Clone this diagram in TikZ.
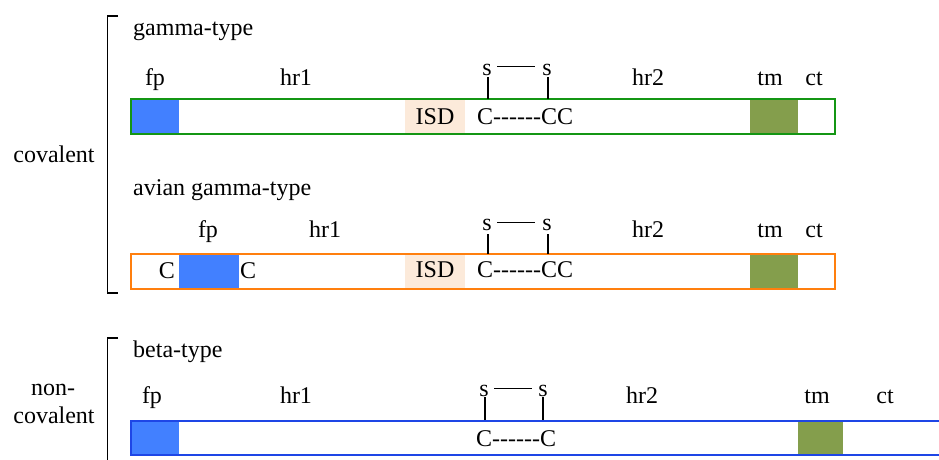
\documentclass[tikz,border=0pt]{standalone}
\usepackage{fontspec}
\setmainfont{Liberation Serif}
\definecolor{gbar}{RGB}{20,150,20}
\definecolor{obar}{RGB}{255,127,14}
\definecolor{bbar}{RGB}{30,70,230}
\definecolor{fpc}{RGB}{66,128,255}
\definecolor{tmc}{RGB}{132,158,76}
\definecolor{isdc}{RGB}{252,234,218}
\tikzset{
  lbl/.style={font=\fontsize{24}{28}\selectfont, inner sep=0pt, anchor=base},
  lbll/.style={lbl, anchor=base west},
  brk/.style={draw=black, line width=1.3pt},
  bond/.style={draw=black, line width=2pt},
  sline/.style={draw=black, line width=1pt},
}
\newcommand{\hy}{-{}}
\begin{document}
\begin{tikzpicture}[x=1pt,y=-1pt]
\useasboundingbox (0,0) rectangle (939,459);

% ---- brackets and group labels
\draw[brk] (118,16) -- (107.5,16) -- (107.5,293) -- (118,293);
\draw[brk] (118,338) -- (107.5,338) -- (107.5,460);
\node[lbl] (cov) at (54,162) {covalent};
\node[lbl] (non) at (53,395) {non-};
\node[lbl] (ncov) at (54,423) {covalent};

% ---- gamma-type
\node[lbll] (g1t) at (133,35) {gamma-type};
\fill[fpc] (131,99) rectangle (179,134);
\fill[isdc] (405,99) rectangle (465,134);
\fill[tmc] (750,99) rectangle (798,134);
\draw[gbar, line width=2pt] (131,99) rectangle (835,134);
\node[lbl] (g1fp) at (155,85) {fp};
\node[lbl] (g1hr1) at (296,85) {hr1};
\node[lbl] (g1hr2) at (648,85) {hr2};
\node[lbl] (g1tm) at (770,85) {tm};
\node[lbl] (g1ct) at (814,85) {ct};
\node[lbl] (g1isd) at (435,124) {ISD};
\node[lbll] (g1cc) at (477,124) {C\hy\hy\hy\hy\hy\hy CC};
\node[lbl] (g1s1) at (487,75) {s};
\node[lbl] (g1s2) at (547,75) {s};
\draw[sline] (497,66) -- (535,66);
\draw[bond] (488,77) -- (488,99);
\draw[bond] (548,77) -- (548,99);

% ---- avian gamma-type
\node[lbll] (g2t) at (133,195) {avian gamma-type};
\fill[fpc] (179,254) rectangle (239,289);
\fill[isdc] (405,254) rectangle (465,289);
\fill[tmc] (750,254) rectangle (798,289);
\draw[obar, line width=2pt] (131,254) rectangle (835,289);
\node[lbl] (g2fp) at (208,237) {fp};
\node[lbl] (g2hr1) at (325,237) {hr1};
\node[lbl] (g2hr2) at (648,237) {hr2};
\node[lbl] (g2tm) at (770,237) {tm};
\node[lbl] (g2ct) at (814,237) {ct};
\node[lbl] (g2c1) at (167,278) {C};
\node[lbl] (g2c2) at (248,278) {C};
\node[lbl] (g2isd) at (435,277) {ISD};
\node[lbll] (g2cc) at (477,277) {C\hy\hy\hy\hy\hy\hy CC};
\node[lbl] (g2s1) at (487,230) {s};
\node[lbl] (g2s2) at (547,230) {s};
\draw[sline] (497,222) -- (535,222);
\draw[bond] (488,234) -- (488,254);
\draw[bond] (548,234) -- (548,254);

% ---- beta-type
\node[lbll] (bt) at (133,357) {beta-type};
\fill[fpc] (131,421) rectangle (179,455);
\fill[tmc] (798,421) rectangle (843,455);
\draw[bbar, line width=2pt] (940,421) -- (131,421) -- (131,455) -- (940,455);
\node[lbl] (bfp) at (152,403) {fp};
\node[lbl] (bhr1) at (296,403) {hr1};
\node[lbl] (bhr2) at (642,403) {hr2};
\node[lbl] (btm) at (817,403) {tm};
\node[lbl] (bct) at (885,403) {ct};
\node[lbll] (bcc) at (476,446) {C\hy\hy\hy\hy\hy\hy C};
\node[lbl] (bs1) at (484,396) {s};
\node[lbl] (bs2) at (543,396) {s};
\draw[sline] (494,388) -- (532,388);
\draw[bond] (485,397) -- (485,420);
\draw[bond] (543,397) -- (543,420);
\end{tikzpicture}
\end{document}
